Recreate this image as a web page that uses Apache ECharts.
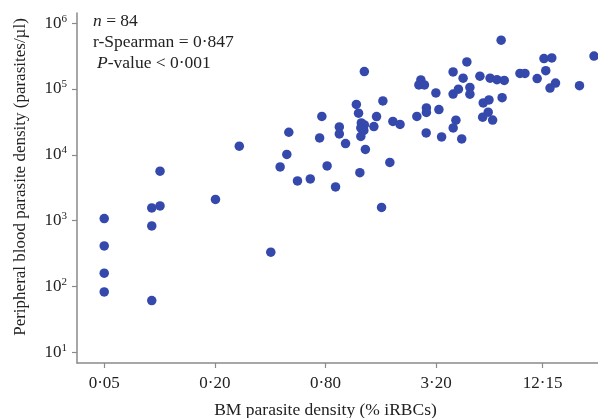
<!DOCTYPE html>
<html>
<head>
<meta charset="utf-8">
<script src="https://cdn.jsdelivr.net/npm/echarts@6/dist/echarts.min.js"></script>
<style>html,body{margin:0;padding:0;background:#fff;}#c{width:598px;height:418px;}</style>
</head>
<body>
<div id="c"></div>
<script>
// BM parasite density (% iRBCs)
const bmDensity = [
  0.05, 0.05, 0.05, 0.05,
  0.0907, 0.1006, 0.0907, 0.0907, 0.1006,
  0.2015, 0.2716, 0.403, 0.453, 0.4926, 0.505, 0.563, 0.661, 0.743, 0.764, 0.816,
  0.907, 0.951, 0.951, 1.028, 1.177, 1.21,
  1.253, 1.301, 1.245, 1.293, 1.245,
  1.301, 1.318, 1.230, 1.466, 1.516, 1.614, 1.641, 1.791, 1.86, 2.035,
  2.512, 2.641, 2.576, 2.762, 2.831, 2.831, 2.823, 3.188, 3.311, 3.425,
  3.955, 3.955, 4.227, 4.097, 3.96, 4.406, 4.484, 4.70, 4.882, 4.882,
  5.535, 6.29, 6.85, 7.51, 5.77, 6.20, 6.14, 5.73, 6.49, 7.22, 7.31,
  9.14, 9.73, 11.34, 12.35, 13.62, 12.63, 14.27, 13.32, 19.27, 23.11
];
// Peripheral blood parasite density (parasites/µl)
const pbDensity = [
  1072, 412, 159, 82.5,
  1560, 1672, 830, 60.8, 5630,
  2100, 13500, 331, 6550, 10140, 22030, 4010, 4300, 18070, 38360, 6780,
  3250, 26550, 20780, 14800, 58300, 42850,
  30530, 28460, 25630, 23480, 19030,
  183800, 12080, 5360, 26840, 38060, 1588, 65920, 7660, 32180, 28960,
  38360, 137500, 115400, 115400, 51600, 44080, 21520, 87240, 48630, 18700,
  181900, 83640, 99300, 33560, 25630, 17450, 145900, 258100, 105700, 83370,
  157000, 145900, 138500, 135100, 61480, 68270, 44390, 37280, 33680, 551600, 73730,
  172600, 172600, 143900, 289700, 297100, 189800, 122900, 103200, 112200, 316200
];
const xTickValues = [0.05, 0.2, 0.8, 3.2, 12.15];
const xTickLabels = ['0·05', '0·20', '0·80', '3·20', '12·15'];
const yTickValues = [10, 100, 1000, 10000, 100000, 1000000];
const yTickExponents = ['1', '2', '3', '4', '5', '6'];

const points = bmDensity.map((x, i) => [x, pbDensity[i]]);
const FONT = '"Liberation Serif", "DejaVu Serif", serif';
const AXIS_COLOR = '#8a8a8a';

const chart = echarts.init(document.getElementById('c'), null, {renderer: 'canvas'});
chart.setOption({
  animation: false,
  backgroundColor: '#ffffff',
  grid: {left: 77, right: 0, top: 13, bottom: 55, containLabel: false, outerBoundsMode: 'none'},
  xAxis: {
    type: 'log',
    logBase: 4,
    min: 0.03555,
    max: 24.3,
    name: 'BM parasite density (% iRBCs)',
    nameLocation: 'middle',
    nameGap: 38,
    nameTextStyle: {fontFamily: FONT, fontSize: 17.5, color: '#222', padding: [0, 24, 0, 0]},
    axisLine: {show: true, onZero: false, lineStyle: {color: AXIS_COLOR, width: 1.5}},
    axisTick: {show: true, length: 5, inside: false, lineStyle: {color: AXIS_COLOR, width: 1.2}, customValues: xTickValues},
    axisLabel: {
      show: true, margin: 12, fontFamily: FONT, fontSize: 17, color: '#222',
      customValues: xTickValues,
      formatter: (v) => {
        let best = 0, d = Infinity;
        xTickValues.forEach((t, i) => { const dd = Math.abs(Math.log(t) - Math.log(v)); if (dd < d) { d = dd; best = i; } });
        return xTickLabels[best];
      }
    },
    splitLine: {show: false},
    minorTick: {show: false}
  },
  yAxis: {
    type: 'log',
    logBase: 10,
    min: 6.85,
    max: 1430000,
    name: 'Peripheral blood parasite density (parasites/µl)',
    nameLocation: 'middle',
    nameGap: 48,
    nameTextStyle: {fontFamily: FONT, fontSize: 17, color: '#222', padding: [0, 0, 0, 22]},
    axisLine: {show: true, onZero: false, lineStyle: {color: AXIS_COLOR, width: 1.5}},
    axisTick: {show: true, length: 5, inside: false, lineStyle: {color: AXIS_COLOR, width: 1.2}, customValues: yTickValues},
    axisLabel: {
      show: true, margin: 10, color: '#222',
      customValues: yTickValues,
      formatter: (v) => {
        let best = 0, d = Infinity;
        yTickValues.forEach((t, i) => { const dd = Math.abs(Math.log(t) - Math.log(v)); if (dd < d) { d = dd; best = i; } });
        return '{b|10}{s|' + yTickExponents[best] + '}';
      },
      rich: {
        b: {fontFamily: FONT, fontSize: 17, color: '#222'},
        s: {fontFamily: FONT, fontSize: 11, color: '#222', padding: [0, 0, 9, 0]}
      }
    },
    splitLine: {show: false},
    minorTick: {show: false}
  },
  series: [{
    type: 'scatter',
    data: points,
    symbol: 'circle',
    symbolSize: 9.5,
    itemStyle: {color: '#3449ab', opacity: 1},
    clip: false
  }],
  graphic: [
    {type: 'text', left: 93, top: 12, style: {text: '{i|n} = 84', fontFamily: FONT, fontSize: 17.5, fill: '#222',
      rich: {i: {fontFamily: FONT, fontSize: 17.5, fontStyle: 'italic', color: '#222'}}}},
    {type: 'text', left: 93, top: 33, style: {text: 'r-Spearman = 0·847', fontFamily: FONT, fontSize: 17.5, fill: '#222'}},
    {type: 'text', left: 97, top: 54, style: {text: '{i|P}-value < 0·001', fontFamily: FONT, fontSize: 17.5, fill: '#222',
      rich: {i: {fontFamily: FONT, fontSize: 17.5, fontStyle: 'italic', color: '#222'}}}}
  ]
});
</script>
</body>
</html>
